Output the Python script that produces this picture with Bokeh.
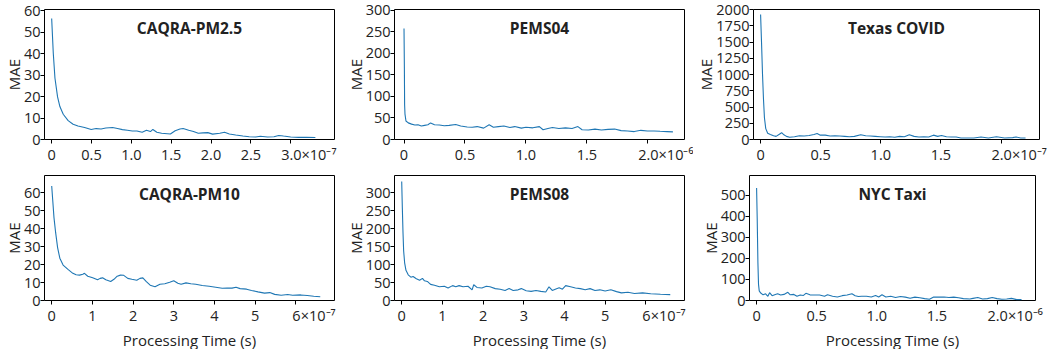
import json
from bokeh.plotting import figure
from bokeh.layouts import row, column
from bokeh.models import Range1d, FixedTicker, Label, CustomJSTickFormatter, Title
from bokeh.embed import file_html
from bokeh.resources import INLINE

FONT = "Open Sans"
BLUE = "#1f77b4"
TXT = "#222222"

# ---------------- data (time in units of the axis exponent, MAE) ----------------
pm25_time = [0, 0.02, 0.041, 0.074, 0.103, 0.145, 0.207, 0.269, 0.33, 0.413, 0.496, 0.558, 0.62, 0.68,
             0.764, 0.826, 0.888, 0.95, 1.012, 1.07, 1.136, 1.19, 1.24, 1.27, 1.32, 1.38, 1.49, 1.55,
             1.61, 1.65, 1.72, 1.78, 1.84, 1.90, 1.96, 2.02, 2.11, 2.17, 2.23, 2.31, 2.40, 2.48, 2.56,
             2.62, 2.71, 2.79, 2.85, 2.91, 3.0, 3.10, 3.20, 3.31]
pm25_mae = [56.5, 40.4, 28.7, 19.9, 15.4, 11.8, 8.8, 7.1, 6.3, 5.6, 4.7, 5.1, 4.9, 5.4, 5.6, 5.1, 4.6,
            4.3, 4.0, 4.0, 3.4, 4.3, 3.7, 4.7, 3.4, 2.9, 2.6, 4.1, 4.9, 5.1, 4.3, 3.7, 2.9, 3.1, 3.2,
            2.5, 2.9, 3.4, 2.6, 2.1, 1.6, 1.3, 1.2, 1.5, 1.2, 1.3, 1.9, 1.6, 1.2, 1.0, 1.0, 0.9]

pems04_time = [0, 0.003, 0.005, 0.008, 0.016, 0.035, 0.062, 0.089, 0.115, 0.142, 0.169, 0.196, 0.218,
               0.25, 0.29, 0.33, 0.37, 0.424, 0.465, 0.518, 0.559, 0.60, 0.653, 0.698, 0.733, 0.774,
               0.819, 0.868, 0.908, 0.962, 1.0, 1.056, 1.11, 1.14, 1.18, 1.217, 1.27, 1.324, 1.378,
               1.426, 1.46, 1.512, 1.566, 1.619, 1.673, 1.727, 1.78, 1.834, 1.888, 1.942, 1.996, 2.05,
               2.10, 2.157, 2.205]
pems04_mae = [258, 167, 80, 59, 43, 38.6, 35.7, 33.6, 34.3, 31.4, 32.9, 34.3, 38.6, 34.3, 33.6, 32.1,
              32.9, 35.0, 31.4, 29.2, 28.5, 30.0, 26.4, 34.3, 28.5, 30.0, 31.4, 27.8, 30.0, 26.4, 28.5,
              27.1, 30.0, 22.7, 25.6, 27.8, 25.6, 27.1, 25.6, 30.0, 22.7, 22.0, 24.2, 22.0, 23.5, 24.2,
              20.6, 19.9, 18.4, 21.3, 19.9, 19.9, 19.1, 18.4, 17.7]

texas_time = [0, 0.008, 0.016, 0.024, 0.032, 0.043, 0.059, 0.081, 0.108, 0.129, 0.156, 0.175, 0.194,
              0.215, 0.242, 0.282, 0.323, 0.363, 0.403, 0.444, 0.47, 0.497, 0.538, 0.578, 0.618, 0.659,
              0.70, 0.739, 0.78, 0.833, 0.874, 0.914, 0.954, 0.995, 1.035, 1.075, 1.116, 1.156, 1.196,
              1.237, 1.277, 1.317, 1.358, 1.398, 1.438, 1.473, 1.505, 1.546, 1.586, 1.626, 1.667, 1.72,
              1.774, 1.833, 1.895, 1.962, 2.03, 2.097, 2.124, 2.164, 2.204]
texas_mae = [1926, 1485, 1006, 623, 335, 168, 96, 77, 57, 48, 81, 105, 72, 48, 34, 43, 57, 53, 62, 77,
             91, 67, 67, 53, 57, 53, 48, 43, 48, 72, 57, 53, 48, 43, 38, 43, 34, 48, 43, 72, 48, 38, 43,
             38, 67, 48, 62, 43, 38, 38, 24, 24, 24, 38, 24, 43, 24, 29, 38, 24, 24]

pm10_time = [0, 0.024, 0.056, 0.097, 0.145, 0.2, 0.28, 0.40, 0.52, 0.60, 0.685, 0.765, 0.805, 0.886,
             1.007, 1.127, 1.19, 1.25, 1.33, 1.45, 1.53, 1.61, 1.69, 1.77, 1.87, 1.97, 2.09, 2.17, 2.24,
             2.32, 2.42, 2.54, 2.66, 2.78, 2.90, 3.0, 3.10, 3.18, 3.30, 3.42, 3.54, 3.70, 3.87, 4.03,
             4.19, 4.31, 4.43, 4.53, 4.63, 4.79, 4.91, 5.07, 5.23, 5.36, 5.48, 5.64, 5.80, 5.92, 6.12,
             6.28, 6.44, 6.60]
pm10_mae = [63.7, 56.2, 46.1, 37.7, 29.4, 23.5, 19.7, 17.3, 15.1, 14.3, 14.1, 14.6, 15.1, 13.5, 12.6,
            11.5, 12.3, 12.6, 11.5, 10.6, 11.8, 13.5, 14.1, 14.0, 12.3, 11.8, 11.3, 12.3, 12.6, 10.6,
            8.5, 7.6, 9.0, 9.3, 10.1, 11.0, 9.6, 9.0, 9.8, 9.3, 9.0, 8.3, 7.9, 7.4, 6.8, 6.9, 6.9, 7.4,
            6.6, 6.3, 5.6, 4.8, 4.1, 4.4, 3.4, 2.9, 3.3, 2.9, 3.1, 2.8, 2.4, 2.1]

pems08_time = [0, 0.016, 0.032, 0.048, 0.072, 0.105, 0.16, 0.225, 0.28, 0.36, 0.44, 0.51, 0.56, 0.63,
               0.71, 0.805, 0.926, 1.047, 1.14, 1.25, 1.33, 1.41, 1.51, 1.63, 1.73, 1.77, 1.85, 1.97,
               2.08, 2.17, 2.30, 2.42, 2.54, 2.64, 2.74, 2.86, 2.94, 3.06, 3.18, 3.30, 3.42, 3.54, 3.62,
               3.70, 3.79, 3.87, 3.95, 4.03, 4.15, 4.27, 4.39, 4.51, 4.63, 4.75, 4.87, 5.0, 5.14, 5.28,
               5.40, 5.56, 5.72, 5.92, 6.12, 6.36, 6.60]
pems08_mae = [331, 256, 189, 138, 105, 84, 71.5, 65, 67, 60.7, 56.5, 61.5, 54.8, 53, 44.8, 42.3, 38.1,
              39.7, 34.7, 41.4, 38.1, 41.4, 38.1, 39.7, 29.7, 43.9, 36.4, 34.7, 39.7, 38.1, 33.1, 31.4,
              28.0, 33.1, 28.0, 29.7, 33.1, 27.2, 25.5, 28.0, 25.5, 23.8, 38.1, 28.0, 32.2, 35.6, 31.4,
              41.4, 38.1, 34.7, 33.1, 29.7, 33.1, 28.0, 29.7, 26.4, 29.7, 24.7, 21.3, 23.0, 19.7, 21.3,
              18.8, 17.2, 16.3]

taxi_time = [0, 0.005, 0.011, 0.016, 0.022, 0.032, 0.054, 0.075, 0.094, 0.108, 0.129, 0.156, 0.175,
             0.2, 0.228, 0.26, 0.28, 0.31, 0.336, 0.363, 0.39, 0.41, 0.444, 0.484, 0.524, 0.565, 0.59,
             0.632, 0.672, 0.712, 0.753, 0.793, 0.82, 0.847, 0.874, 0.914, 0.954, 0.99, 1.016, 1.043,
             1.075, 1.116, 1.156, 1.196, 1.237, 1.277, 1.317, 1.358, 1.398, 1.438, 1.473, 1.519, 1.56,
             1.6, 1.64, 1.68, 1.72, 1.774, 1.80, 1.84, 1.88, 1.92, 1.96, 2.0, 2.04, 2.08, 2.12, 2.164,
             2.204]
taxi_mae = [536, 393, 178, 77, 46, 37, 27, 32, 20, 37, 23, 29, 32, 26, 29, 39, 27, 29, 20, 26, 24, 34,
            27, 26, 26, 20, 27, 20, 17, 23, 26, 32, 23, 19, 20, 20, 17, 24, 17, 27, 17, 20, 14, 19, 16,
            11, 16, 13, 9, 6, 17, 16, 17, 14, 16, 13, 9, 7, 10, 14, 7, 9, 14, 9, 6, 7, 10, 4, 4]

titles = ["CAQRA-PM2.5", "PEMS04", "Texas COVID", "CAQRA-PM10", "PEMS08", "NYC Taxi"]
exponents = ["\u00d710\u207b\u2077", "\u00d710\u207b\u2076", "\u00d710\u207b\u2077",
             "\u00d710\u207b\u2077", "\u00d710\u207b\u2077", "\u00d710\u207b\u2076"]
xticks_half3 = [0, 0.5, 1.0, 1.5, 2.0, 2.5, 3.0]
xticks_half2 = [0, 0.5, 1.0, 1.5, 2.0]
xticks_int6 = [0, 1, 2, 3, 4, 5, 6]
yticks_pm25 = [0, 10, 20, 30, 40, 50, 60]
yticks_pems04 = [0, 50, 100, 150, 200, 250, 300]
yticks_texas = [0, 250, 500, 750, 1000, 1250, 1500, 1750, 2000]
yticks_pm10 = [0, 10, 20, 30, 40, 50, 60, 70]
yticks_pems08 = [0, 50, 100, 150, 200, 250, 300, 350]
yticks_taxi = [0, 100, 200, 300, 400, 500, 600]
y_label = "MAE"
x_label = "Processing Time (s)"

# leading spaces balance the exponent appended to the last tick label, so the number stays centred
EXP_PAD = "\u2003\u2003\u2002"


def panel(t, mae, title, exp, xr, yr, xticks, yticks, decimals,
          fw, fh, bl, br, bt, bb, show_xlabel):
    p = figure(frame_width=fw, frame_height=fh, x_range=Range1d(*xr), y_range=Range1d(*yr),
               output_backend="svg", toolbar_location=None,
               min_border_left=bl, min_border_right=br, min_border_top=bt, min_border_bottom=bb)
    p.line(t, mae, line_color=BLUE, line_width=1.1)
    p.xgrid.visible = False
    p.ygrid.visible = False
    p.outline_line_color = "#000000"
    p.outline_line_alpha = 1.0
    p.outline_line_width = 1
    p.background_fill_color = "white"
    p.border_fill_color = "white"
    for ax in (p.xaxis[0], p.yaxis[0]):
        ax.axis_line_color = None
        ax.major_tick_line_color = "#000000"
        ax.major_tick_in = 0
        ax.major_tick_out = 4
        ax.minor_tick_line_color = None
        ax.minor_tick_out = 0
        ax.minor_tick_in = 0
        ax.major_label_text_font = FONT
        ax.major_label_text_font_size = "14.5px"
        ax.major_label_text_color = TXT
        ax.axis_label_text_font = FONT
        ax.axis_label_text_font_style = "normal"
        ax.axis_label_text_color = TXT
    p.xaxis.major_label_standoff = 1
    p.yaxis.major_label_standoff = 0
    p.xaxis.ticker = FixedTicker(ticks=xticks)
    p.yaxis.ticker = FixedTicker(ticks=yticks)
    code = ("const s = tick === 0 ? '0' : tick.toFixed(%d);"
            "return Math.abs(tick - %r) < 1e-9 ? %s + s + %s : s;"
            % (decimals, float(xticks[-1]), json.dumps(EXP_PAD), json.dumps(exp)))
    p.xaxis.formatter = CustomJSTickFormatter(code=code)
    p.yaxis.axis_label = y_label
    p.yaxis.axis_label_text_font_size = "15px"
    p.yaxis.axis_label_standoff = -3

    xmid = (xr[0] + xr[1]) / 2.0
    p.add_layout(Label(x=xmid, y=yr[1], y_offset=-18, text=title, text_align="center",
                       text_baseline="alphabetic", text_font=FONT, text_font_size="15.5px",
                       text_font_style="bold", text_color=TXT))
    if show_xlabel:
        p.add_layout(Title(text=x_label, align="center", standoff=0, text_font=FONT,
                           text_font_size="15px", text_font_style="normal", text_color=TXT),
                     "below")
    return p


FH1, FH2 = 130, 125
p1 = panel(pm25_time, pm25_mae, titles[0], exponents[0], (-0.09, 3.55), (0, 60.7),
           xticks_half3, yticks_pm25, 1, 290, FH1, 38, 8, 9, 20, False)
p2 = panel(pems04_time, pems04_mae, titles[1], exponents[1], (-0.078, 2.30), (0, 302),
           xticks_half2, yticks_pems04, 1, 290, FH1, 48, 9, 9, 20, False)
p3 = panel(texas_time, texas_mae, titles[2], exponents[2], (-0.059, 2.32), (0, 2003),
           xticks_half2, yticks_texas, 1, 286, FH1, 56, 10, 9, 20, False)
p4 = panel(pm10_time, pm10_mae, titles[3], exponents[3], (-0.177, 6.95), (0, 69.5),
           xticks_int6, yticks_pm10, 0, 290, FH2, 38, 8, 9, 20, True)
p5 = panel(pems08_time, pems08_mae, titles[4], exponents[4], (-0.177, 6.95), (0, 348),
           xticks_int6, yticks_pems08, 0, 290, FH2, 48, 9, 9, 20, True)
p6 = panel(taxi_time, taxi_mae, titles[5], exponents[5], (-0.059, 2.32), (0, 595),
           xticks_half2, yticks_taxi, 1, 286, FH2, 56, 10, 9, 20, True)

layout = column(row(p1, p2, p3), row(p4, p5, p6))
open("out.html", "w").write(file_html(layout, INLINE))
